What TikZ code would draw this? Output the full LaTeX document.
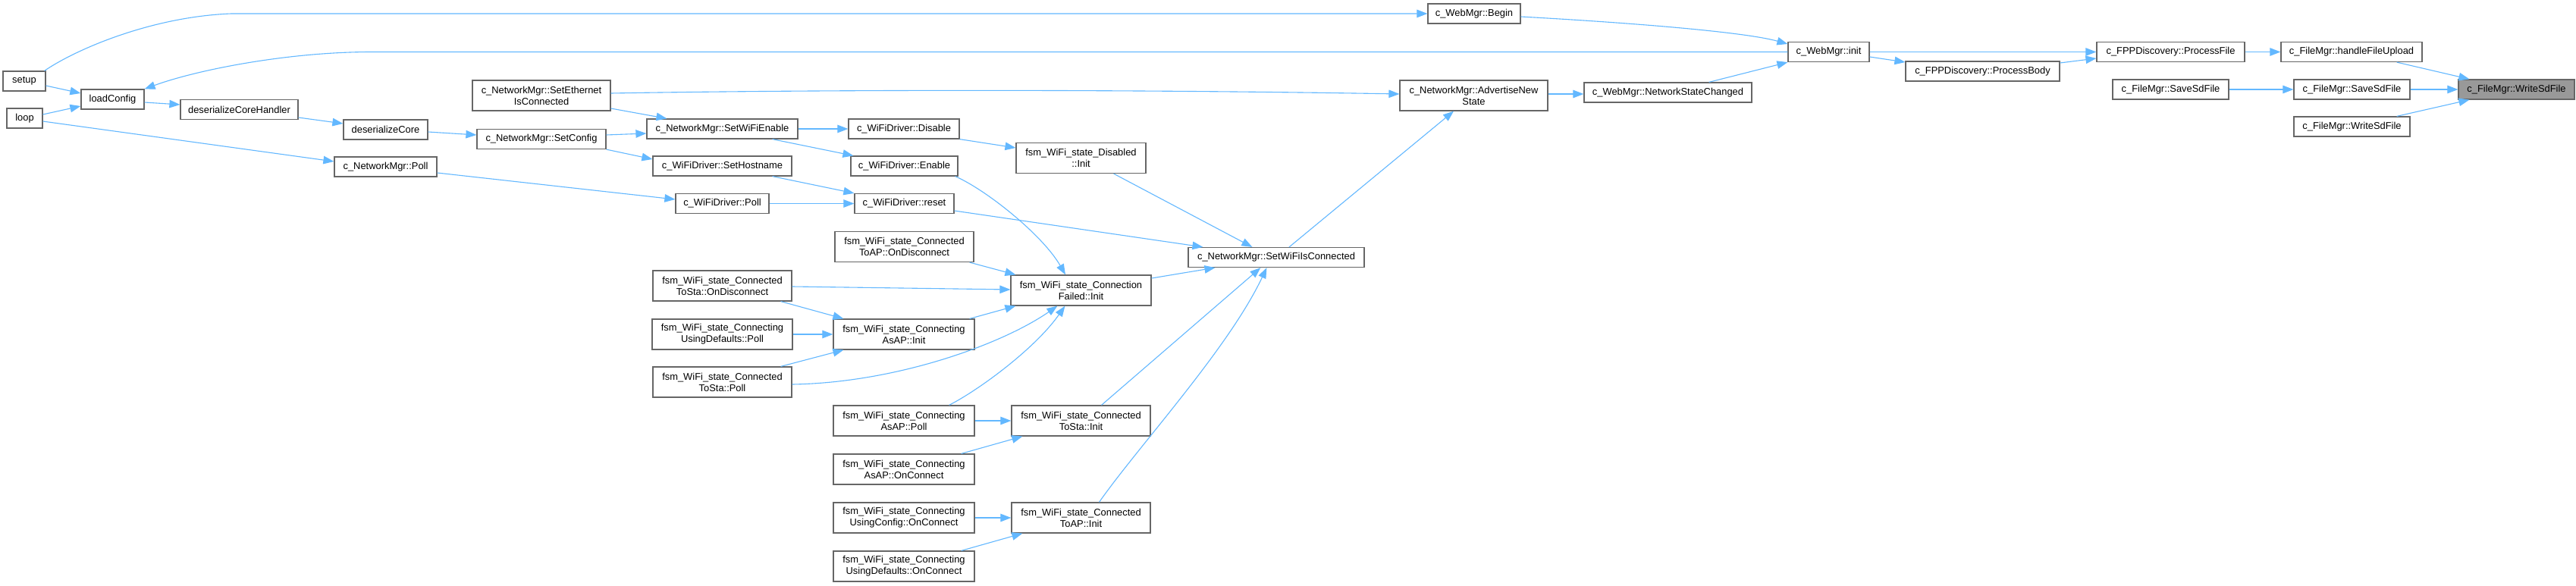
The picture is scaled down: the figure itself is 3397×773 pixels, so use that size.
\documentclass[tikz,border=0pt]{standalone}
\usepackage{fontspec}
\setmainfont{Liberation Sans}
\usetikzlibrary{arrows.meta}
\definecolor{edgeblue}{HTML}{63B8FF}
\definecolor{boxborder}{HTML}{666666}
\definecolor{hlfill}{HTML}{999999}
\begin{document}
\begin{tikzpicture}[x=1pt,y=-1pt,
  box/.style={draw=boxborder,line width=1.2pt,fill=white,inner sep=0pt,align=center,
    font=\fontsize{12.9}{15}\selectfont},
  hl/.style={box,fill=hlfill},
  link/.style={draw=edgeblue,line width=1.1pt,-{Triangle[length=14pt,width=10.5pt]}}]
\fill[white] (0,0) rectangle (3397,773);
\useasboundingbox (0,0) rectangle (3397,773);

% nodes
\node[box,minimum width=56pt,minimum height=26pt] (setup) at (32,107) {setup};
\node[box,minimum width=47pt,minimum height=26pt] (loop) at (32.5,156) {loop};
\node[box,minimum width=83pt,minimum height=26pt] (loadconfig) at (148.5,131) {loadConfig};
\node[box,minimum width=155pt,minimum height=26pt] (dch) at (315.5,144.5) {deserializeCoreHandler};
\node[box,minimum width=111pt,minimum height=26pt] (dc) at (508.5,171) {deserializeCore};
\node[box,minimum width=135pt,minimum height=26pt] (nmpoll) at (508.5,220) {c\_NetworkMgr::Poll};
\node[box,minimum width=182pt,minimum height=40pt] (seteth) at (714,126) {c\_NetworkMgr::SetEthernet\\IsConnected};
\node[box,minimum width=170pt,minimum height=26pt] (setconfig) at (714,183.5) {c\_NetworkMgr::SetConfig};
\node[box,minimum width=199pt,minimum height=26pt] (swe) at (952.5,170) {c\_NetworkMgr::SetWiFiEnable};
\node[box,minimum width=183pt,minimum height=26pt] (sethost) at (952.5,219) {c\_WiFiDriver::SetHostname};
\node[box,minimum width=123pt,minimum height=26pt] (wdpoll) at (952.5,268.5) {c\_WiFiDriver::Poll};
\node[box,minimum width=183pt,minimum height=40pt] (tostadis) at (952.5,377) {fsm\_WiFi\_state\_Connected\\ToSta::OnDisconnect};
\node[box,minimum width=185pt,minimum height=40pt] (udpoll) at (952.5,441) {fsm\_WiFi\_state\_Connecting\\UsingDefaults::Poll};
\node[box,minimum width=183pt,minimum height=40pt] (tostapoll) at (952.5,504) {fsm\_WiFi\_state\_Connected\\ToSta::Poll};
\node[box,minimum width=146pt,minimum height=26pt] (disable) at (1192,170) {c\_WiFiDriver::Disable};
\node[box,minimum width=141pt,minimum height=26pt] (enable) at (1192.5,219) {c\_WiFiDriver::Enable};
\node[box,minimum width=131pt,minimum height=26pt] (reset) at (1192.5,268.5) {c\_WiFiDriver::reset};
\node[box,minimum width=183pt,minimum height=40pt] (toapdis) at (1192.5,325.5) {fsm\_WiFi\_state\_Connected\\ToAP::OnDisconnect};
\node[box,minimum width=186pt,minimum height=40pt] (asapinit) at (1192,441) {fsm\_WiFi\_state\_Connecting\\AsAP::Init};
\node[box,minimum width=186pt,minimum height=40pt] (asappoll) at (1192,555) {fsm\_WiFi\_state\_Connecting\\AsAP::Poll};
\node[box,minimum width=186pt,minimum height=40pt] (asaponc) at (1192,619) {fsm\_WiFi\_state\_Connecting\\AsAP::OnConnect};
\node[box,minimum width=186pt,minimum height=40pt] (ucfgonc) at (1192,683) {fsm\_WiFi\_state\_Connecting\\UsingConfig::OnConnect};
\node[box,minimum width=186pt,minimum height=40pt] (udonc) at (1192,747) {fsm\_WiFi\_state\_Connecting\\UsingDefaults::OnConnect};
\node[box,minimum width=171pt,minimum height=40pt] (disinit) at (1425.5,208.5) {fsm\_WiFi\_state\_Disabled\\::Init};
\node[box,minimum width=185pt,minimum height=40pt] (connfail) at (1425.5,383) {fsm\_WiFi\_state\_Connection\\Failed::Init};
\node[box,minimum width=183pt,minimum height=40pt] (tostainit) at (1425.5,555) {fsm\_WiFi\_state\_Connected\\ToSta::Init};
\node[box,minimum width=183pt,minimum height=40pt] (toapinit) at (1425.5,683) {fsm\_WiFi\_state\_Connected\\ToAP::Init};
\node[box,minimum width=232pt,minimum height=26pt] (swic) at (1683,339.5) {c\_NetworkMgr::SetWiFiIsConnected};
\node[box,minimum width=122pt,minimum height=26pt] (begin) at (1944,18) {c\_WebMgr::Begin};
\node[box,minimum width=195pt,minimum height=40pt] (adv) at (1943.5,126) {c\_NetworkMgr::AdvertiseNew\\State};
\node[box,minimum width=221pt,minimum height=26pt] (nsc) at (2199.5,122) {c\_WebMgr::NetworkStateChanged};
\node[box,minimum width=107pt,minimum height=26pt] (webinit) at (2411.5,68.5) {c\_WebMgr::init};
\node[box,minimum width=203pt,minimum height=26pt] (procbody) at (2614.5,94) {c\_FPPDiscovery::ProcessBody};
\node[box,minimum width=195pt,minimum height=26pt] (procfile) at (2862.5,68.5) {c\_FPPDiscovery::ProcessFile};
\node[box,minimum width=153pt,minimum height=26pt] (savel) at (2862.5,118) {c\_FileMgr::SaveSdFile};
\node[box,minimum width=186pt,minimum height=26pt] (hfu) at (3101,68.5) {c\_FileMgr::handleFileUpload};
\node[box,minimum width=153pt,minimum height=26pt] (saver) at (3101.5,118) {c\_FileMgr::SaveSdFile};
\node[box,minimum width=153pt,minimum height=26pt] (wsd2) at (3101.5,167) {c\_FileMgr::WriteSdFile};
\node[hl,minimum width=153pt,minimum height=26pt] (wsd) at (3318.5,118) {c\_FileMgr::WriteSdFile};

% edges
\draw[link] ([yshift=-6pt]setup.east) -- ([yshift=8pt]loadconfig.west);
\draw[link] ([yshift=5pt]loop.east) -- ([yshift=-9pt]loadconfig.west);
\draw[link] ([yshift=-4pt]loop.east) -- ([yshift=7pt]nmpoll.west);
\draw[link] ([xshift=-2pt]setup.north east) .. controls (100,65) and (200,22) .. (305,18) -- (begin.west);
\draw[link] ([yshift=-4pt]loadconfig.east) -- ([yshift=6.5pt]dch.west);
\draw[link] ([yshift=-10.5pt]dch.east) -- ([yshift=8pt]dc.west);
\draw[link] ([yshift=-3pt]dc.east) -- ([yshift=5.5pt]setconfig.west);
\draw[link] ([yshift=5.5pt]setconfig.east) -- ([yshift=-6pt]swe.west);
\draw[link] (setconfig.south east) -- ([yshift=9pt]sethost.west);
\draw[link] ([yshift=-17pt]seteth.east) -- ([xshift=27pt]swe.north west);
\draw[link] ([yshift=3pt]seteth.east) .. controls (1100,118) and (1500,118) .. ([yshift=2pt]adv.west);
\draw[link] ([yshift=-8pt]nmpoll.east) -- ([yshift=5.5pt]wdpoll.west);
\draw[link] (swe.east) -- (disable.west);
\draw[link] ([xshift=-34pt]swe.south east) -- ([xshift=4pt]enable.north west);
\draw[link] ([xshift=-26pt]sethost.south east) -- (reset.north west);
\draw[link] (wdpoll.east) -- (reset.west);
\draw[link] (disable.south east) -- ([yshift=13.5pt]disinit.west);
\draw[link] ([xshift=-4pt]enable.south east) .. controls (1300,250) and (1375,310) .. ([xshift=-20.5pt]connfail.north);
\draw[link] ([yshift=-9.5pt]reset.east) -- ([xshift=20pt]swic.north west);
\draw[link] ([xshift=-43pt]disinit.south east) -- ([xshift=85pt]swic.north west);
\draw[link] ([xshift=-6pt]toapdis.south east) -- ([xshift=7pt]connfail.north west);
\draw[link] ([yshift=-1pt]tostadis.east) -- ([yshift=1pt]connfail.west);
\draw[link] ([yshift=16pt]connfail.east) -- ([xshift=36pt]swic.south west);
\draw[link] ([xshift=-15pt]tostadis.south east) -- ([xshift=14pt]asapinit.north west);
\draw[link] (udpoll.east) -- (asapinit.west);
\draw[link] ([xshift=-15pt]tostapoll.north east) -- ([xshift=14pt]asapinit.south west);
\draw[link] ([xshift=-7pt]asapinit.north east) -- ([xshift=7pt]connfail.south west);
\draw[link] ([yshift=-3pt]tostapoll.east) .. controls (1180,505) and (1320,455) .. ([xshift=62pt]connfail.south west);
\draw[link] ([xshift=-34pt]asappoll.north east) .. controls (1290,515) and (1365,460) .. ([xshift=72pt]connfail.south west);
\draw[link] (asappoll.east) -- (tostainit.west);
\draw[link] ([xshift=-18pt]asaponc.north east) -- ([xshift=15pt]tostainit.south west);
\draw[link] (ucfgonc.east) -- (toapinit.west);
\draw[link] ([xshift=-18pt]udonc.north east) -- ([xshift=15pt]toapinit.south west);
\draw[link] ([xshift=27pt]tostainit.north) -- ([xshift=96pt]swic.south west);
\draw[link] ([xshift=24pt]toapinit.north) .. controls (1500,590) and (1620,460) .. ([xshift=104pt]swic.south west);
\draw[link] ([xshift=17pt]swic.north) -- ([xshift=-26.5pt]adv.south);
\draw[link] ([yshift=2pt]adv.east) -- ([yshift=-2pt]nsc.west);
\draw[link] ([xshift=-57pt]nsc.north east) -- (webinit.south west);
\draw[link] ([yshift=-4pt]begin.east) .. controls (2150,30) and (2300,42) .. ([yshift=10.5pt]webinit.west);
\draw[link] (webinit.west) -- (490,68.5) .. controls (380,68.5) and (260,92) .. (loadconfig.north east);
\draw[link] ([yshift=-6.5pt]webinit.east) -- ([yshift=12pt]procbody.west);
\draw[link] (webinit.east) -- (procfile.west);
\draw[link] ([yshift=11pt]procbody.east) -- ([yshift=-8.5pt]procfile.west);
\draw[link] (procfile.east) -- (hfu.west);
\draw[link] ([xshift=-34pt]hfu.south east) -- ([xshift=15pt]wsd.north west);
\draw[link] (savel.east) -- (saver.west);
\draw[link] (saver.east) -- (wsd.west);
\draw[link] ([xshift=-18pt]wsd2.north east) -- ([xshift=15pt]wsd.south west);
\end{tikzpicture}
\end{document}
